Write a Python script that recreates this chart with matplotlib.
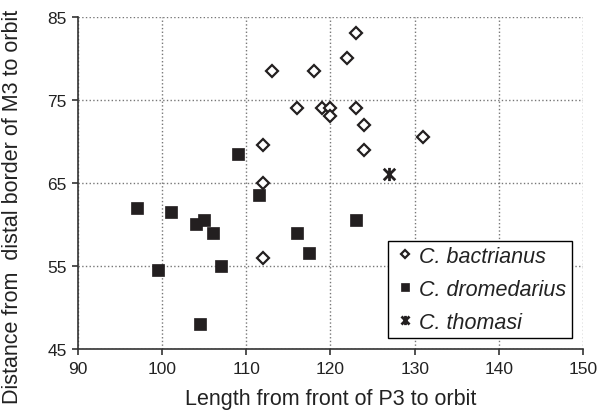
import matplotlib.pyplot as plt
from matplotlib.path import Path

plt.rcParams['font.family'] = ['Liberation Sans', 'DejaVu Sans']

# C. bactrianus
bac_x = [123, 122, 113, 118, 116, 119, 120, 120, 123, 124, 124, 112, 112, 131, 112]
bac_y = [83, 80, 78.5, 78.5, 74, 74, 74, 73, 74, 72, 69, 69.5, 65, 70.5, 56]
# C. dromedarius
dro_x = [109, 111.5, 97, 101, 104, 105, 106, 116, 117.5, 123, 99.5, 107, 104.5]
dro_y = [68.5, 63.5, 62, 61.5, 60, 60.5, 59, 59, 56.5, 60.5, 54.5, 55, 48]
# C. thomasi
tho_x = [127]
tho_y = [66]

xticks = [90, 100, 110, 120, 130, 140, 150]
yticks = [45, 55, 65, 75, 85]

dark = '#231f20'
txt = '#222222'

# x with a vertical bar, like the spreadsheet star marker
star = Path([(-1, -1), (1, 1), (-1, 1), (1, -1), (0, -1.15), (0, 1.15)],
            [Path.MOVETO, Path.LINETO] * 3)

fig = plt.figure(figsize=(6.02, 4.14), dpi=100)
ax = fig.add_axes([78/602, 64/414, 505/602, 332.5/414])

ax.plot(bac_x, bac_y, 'D', ms=6.2, mfc='white', mec=dark, mew=1.6,
        ls='none', label='C. bactrianus', zorder=3)
ax.plot(dro_x, dro_y, 's', ms=8.5, mfc=dark, mec=dark, mew=0.5,
        ls='none', label='C. dromedarius', zorder=3)
ax.plot(tho_x, tho_y, marker=star, ms=9.5, mec=dark, mew=2.0,
        ls='none', color=dark, label='C. thomasi', zorder=3)

ax.set_xlim(90, 150)
ax.set_ylim(45, 85)
ax.set_xticks(xticks)
ax.set_yticks(yticks)
ax.grid(True, ls=':', color='#777777', lw=1)
ax.set_axisbelow(True)

for s in ['top', 'right']:
    ax.spines[s].set_visible(False)
for s in ['left', 'bottom']:
    ax.spines[s].set_color('#333333')
    ax.spines[s].set_linewidth(1.2)

ax.tick_params(direction='out', length=4, width=1.2, color='#333333',
               labelsize=12.5, labelcolor=txt)
ax.tick_params(axis='x', pad=5)
ax.tick_params(axis='y', pad=4)
ax.set_xlabel('Length from front of P3 to orbit', fontsize=15.5, color=txt)
ax.xaxis.set_label_coords(0.5, -0.118)
ax.set_ylabel('Distance from  distal border of M3 to orbit', fontsize=15.5, color=txt)
ax.yaxis.set_label_coords(-0.108, 0.43)

leg = ax.legend(loc='lower right', bbox_to_anchor=(0.978, 0.033), borderaxespad=0,
                fancybox=False, edgecolor='black', framealpha=1,
                prop={'style': 'italic', 'size': 15.5}, markerscale=0.7,
                handlelength=1.1, handletextpad=0.1, labelspacing=0.55,
                borderpad=0.25)
leg.get_frame().set_linewidth(1.0)
for t in leg.get_texts():
    t.set_color(txt)

fig.savefig('out.png', dpi=100)
